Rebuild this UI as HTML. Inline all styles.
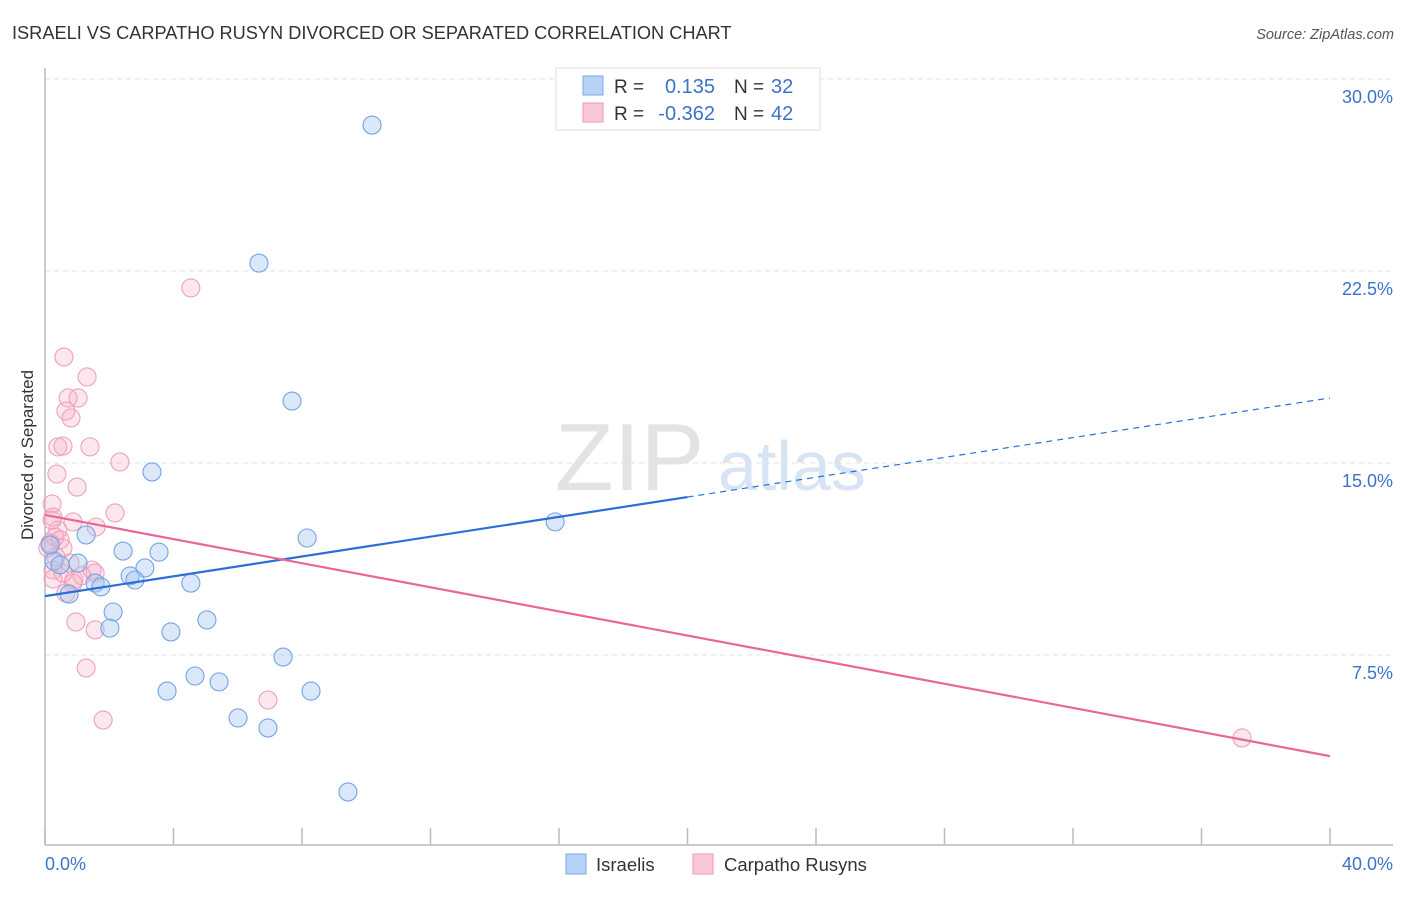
<!DOCTYPE html>
<html><head><meta charset="utf-8"><style>
body{margin:0;background:#fff;font-family:"Liberation Sans",sans-serif;}
svg text{font-family:"Liberation Sans",sans-serif;}
</style></head><body>
<svg id="chart" width="1406" height="892" xmlns="http://www.w3.org/2000/svg">
<text x="12" y="39" font-size="18.2" fill="#333">ISRAELI VS CARPATHO RUSYN DIVORCED OR SEPARATED CORRELATION CHART</text>
<text x="1394" y="39" font-size="14.5" fill="#555" font-style="italic" text-anchor="end">Source: ZipAtlas.com</text>
<text x="555" y="490" font-size="96" fill="#d8d8d8" font-family="Liberation Serif" opacity="0.7">ZIP</text>
<text x="718" y="490" font-size="70" fill="#bcd3ee" opacity="0.6">atlas</text>
<g id="grid"></g>
<line x1="45" y1="68" x2="45" y2="845" stroke="#bbb" stroke-width="1.5"/>
<line x1="45" y1="845" x2="1393" y2="845" stroke="#bbb" stroke-width="1.5"/>
<g id="ticks"></g>
<text transform="translate(33,455) rotate(-90)" font-size="17" fill="#333" text-anchor="middle">Divorced or Separated</text>
<text x="45" y="870" font-size="18" fill="#3b73c9">0.0%</text>
<text x="1393" y="870" font-size="18" fill="#3b73c9" text-anchor="end">40.0%</text>
<g id="points"></g>
<g id="lines"></g>
<g>
<rect x="556" y="68" width="264" height="62" fill="#fff" stroke="#ddd"/>
<rect x="583" y="76" width="20" height="19" fill="#b8d2f5" stroke="#7aa8e6"/>
<rect x="583" y="103" width="20" height="19" fill="#f9c6d6" stroke="#eb9ab6"/>
<text x="614" y="93" font-size="19" fill="#333">R =</text>
<text x="715" y="93" font-size="20" fill="#3b73c9" text-anchor="end">0.135</text>
<text x="734" y="93" font-size="19" fill="#333">N =</text>
<text x="771" y="93" font-size="20" fill="#3b73c9">32</text>
<text x="614" y="120" font-size="19" fill="#333">R =</text>
<text x="715" y="120" font-size="20" fill="#3b73c9" text-anchor="end">-0.362</text>
<text x="734" y="120" font-size="19" fill="#333">N =</text>
<text x="771" y="120" font-size="20" fill="#3b73c9">42</text>
</g>
<g>
<rect x="566" y="854" width="20" height="20" fill="#b8d2f5" stroke="#7aa8e6"/>
<text x="596" y="871" font-size="18.5" fill="#333">Israelis</text>
</g>
<g>
<rect x="693" y="854" width="20" height="20" fill="#f9c6d6" stroke="#eb9ab6"/>
<text x="724" y="871" font-size="18.5" fill="#333">Carpatho Rusyns</text>
</g>
</svg>
<script>
const yTicks=[7.5,15,22.5,30];
const yTickLabels=["7.5%","15.0%","22.5%","30.0%"];
const xTicks=[0,4,8,12,16,20,24,28,32,36,40];
const blueX=[10.18,6.66,7.69,3.33,15.88,8.16,1.28,2.43,3.55,0.28,1.03,3.11,2.65,2.80,1.56,1.74,4.54,0.75,2.12,5.04,2.02,3.92,7.41,4.67,5.42,3.80,8.28,6.01,6.94,9.43,0.16,0.47];
const blueY=[28.20,22.81,17.42,14.65,12.70,12.07,12.19,11.56,11.52,11.17,11.09,10.90,10.59,10.43,10.31,10.16,10.31,9.88,9.18,8.87,8.55,8.40,7.42,6.68,6.45,6.09,6.09,5.04,4.65,2.15,11.80,11.02];
const pinkX=[0.59,1.31,0.72,1.03,0.65,0.81,0.40,0.56,1.40,2.33,0.37,1.00,0.22,2.18,0.25,0.87,1.59,0.40,0.31,0.16,0.56,0.34,0.25,0.56,1.46,1.56,0.25,0.87,0.65,0.96,1.56,1.28,1.81,4.54,6.94,37.26,0.78,0.90,0.22,0.09,0.47,1.15];
const pinkY=[19.14,18.36,17.54,17.54,17.03,16.76,15.63,15.66,15.63,15.04,14.57,14.06,13.40,13.05,12.89,12.70,12.50,12.38,12.11,11.88,11.68,11.33,10.82,10.70,10.82,10.70,10.47,10.31,9.92,8.79,8.48,6.99,4.96,21.84,5.74,4.26,11.09,10.43,12.77,11.68,12.0,10.6];
const blueTrend=[9.80,17.54];
const blueSolidEnd=20;
const pinkTrend=[12.97,3.55];
const NS="http://www.w3.org/2000/svg";
const sx=v=>45+v*(1285/40);
const sy=v=>847-v*(192/7.5);
function mk(tag,attrs,parent){const e=document.createElementNS(NS,tag);for(const k in attrs)e.setAttribute(k,attrs[k]);parent.appendChild(e);return e;}
const grid=document.getElementById('grid');
yTicks.forEach((t,i)=>{
  const l=mk('line',{x1:45,x2:1393,y1:sy(t),y2:sy(t),stroke:'#e2e2e2','stroke-dasharray':'5,4'},grid);
  
  
  const tx=mk('text',{x:1393,y:sy(t)+24,'font-size':18,fill:'#3b73c9','text-anchor':'end'},grid);
  tx.textContent=yTickLabels[i];
  
  
});
const ticks=document.getElementById('ticks');
xTicks.forEach(t=>{
  const l=mk('line',{x1:sx(t),x2:sx(t),y1:828,y2:845,stroke:'#bbb','stroke-width':1.5},ticks);
  
  
});
const pts=document.getElementById('points');
pinkX.forEach((x,i)=>{
  const c=mk('circle',{cx:sx(x),cy:sy(pinkY[i]),r:9,fill:'rgba(246,175,198,0.3)',stroke:'#eda0bb','stroke-width':1.1},pts);
  
  
});
blueX.forEach((x,i)=>{
  const c=mk('circle',{cx:sx(x),cy:sy(blueY[i]),r:9,fill:'rgba(165,198,240,0.4)',stroke:'#74a3e0','stroke-width':1.1},pts);
  
  
});
const lines=document.getElementById('lines');
const bAt=x=>blueTrend[0]+(blueTrend[1]-blueTrend[0])*x/40;
let l1=mk('line',{x1:sx(0),y1:sy(bAt(0)),x2:sx(blueSolidEnd),y2:sy(bAt(blueSolidEnd)),stroke:'#2a6fd6','stroke-width':2.2},lines);


let l2=mk('line',{x1:sx(blueSolidEnd),y1:sy(bAt(blueSolidEnd)),x2:sx(40),y2:sy(bAt(40)),stroke:'#2a6fd6','stroke-width':1.2,'stroke-dasharray':'6,5'},lines);


let l3=mk('line',{x1:sx(0),y1:sy(pinkTrend[0]),x2:sx(40),y2:sy(pinkTrend[1]),stroke:'#e8679a','stroke-width':2.2},lines);


</script>
</body></html>
